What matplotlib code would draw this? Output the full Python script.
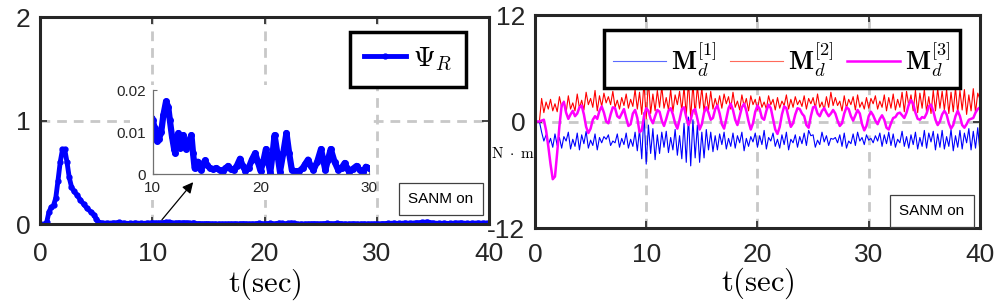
import numpy as np
import matplotlib
matplotlib.use('Agg')
import matplotlib.pyplot as plt
from matplotlib.patches import Rectangle

plt.rcParams['font.family'] = ['Liberation Sans', 'DejaVu Sans']
plt.rcParams['mathtext.fontset'] = 'cm'
plt.rcParams['axes.unicode_minus'] = False

# ---- left panel: Psi_R ----
psi_t_early = [0, 0.4, 0.6, 0.8, 1.0, 1.2, 1.4, 1.6, 1.8, 2.0, 2.2, 2.4, 2.6, 2.8, 3.0,
               3.3, 3.6, 3.9, 4.2, 4.5, 4.8, 5.0, 5.2, 5.5, 6.0, 6.5, 7.0, 7.5, 8.0,
               8.5, 9.0, 9.5]
psi_early = [0, 0, 0.02, 0.12, 0.16, 0.18, 0.25, 0.42, 0.6, 0.72, 0.72, 0.6, 0.45, 0.36,
             0.32, 0.28, 0.23, 0.19, 0.15, 0.12, 0.09, 0.05, 0.02, 0.01, 0.008, 0.01,
             0.015, 0.008, 0.005, 0.01, 0.006, 0.008]

# zoomed part (values x 1e-3)
psi_t_mid = [10.0, 10.2, 10.4, 10.6, 10.8, 11.0, 11.25, 11.45, 11.6, 11.8, 12.0, 12.1,
             12.25, 12.4, 12.55, 12.7, 12.85, 13.0, 13.1, 13.3, 13.6, 13.75, 13.9, 14.05,
             14.2, 14.35, 14.5, 14.7, 14.86, 15.05, 15.3, 15.6, 15.9, 16.2, 16.5, 16.75,
             17.0, 17.25, 17.5, 17.8, 18.1, 18.35, 18.6, 18.9, 19.2, 19.5, 19.75, 20.0,
             20.25, 20.5, 20.7, 20.9, 21.1, 21.3, 21.55, 21.8, 22.1, 22.4, 22.65, 22.9,
             23.25, 23.6, 23.9, 24.15, 24.4, 24.65, 24.9, 25.25, 25.6, 25.8, 26.0, 26.25,
             26.5, 26.85, 27.2, 27.5, 27.8, 28.0, 28.2, 28.55, 28.9, 29.2, 29.5, 29.75,
             30.0]
psi_mid_milli = [13, 11, 8, 8.5, 10, 14, 17.3, 16, 12.9, 9, 6, 5, 8, 9.8, 6.2, 8.5, 9.3,
                 7, 6, 7.5, 9.3, 5, 1.4, 2.5, 3, 2, 1, 2.5, 3.3, 2.2, 1.5, 1.2, 1.5, 1.0,
                 0.8, 1.4, 2, 1.2, 1, 2, 3.7, 2, 0.8, 1.5, 3.5, 5, 3, 0.8, 3, 6, 3, 0.4,
                 4.5, 9.3, 5, 0.6, 5, 9.8, 5, 1, 0.7, 0.8, 1.5, 2.5, 3.5, 2, 1, 3, 6, 3.5,
                 1, 3.5, 6, 3, 1, 1.5, 2.7, 1.5, 0.6, 1.3, 2, 1, 0.5, 1.8, 1.5]

psi_t_late = [30.5, 31.0, 31.5, 32.0, 32.5, 33.0, 33.5, 34.0, 34.5, 35.0, 35.5, 36.0,
              36.5, 37.0, 37.5, 38.0, 38.5, 39.0, 39.5, 40.0]
psi_late = [0.004, 0.006, 0.008, 0.005, 0.01, 0.007, 0.012, 0.015, 0.02, 0.01, 0.006,
            0.008, 0.005, 0.01, 0.012, 0.006, 0.008, 0.01, 0.008, 0.012]

# ---- right panel: disturbance moments ----
t_m = np.linspace(0, 40, 201)
md1 = [0, 0, 0, -1.2, -2.2, -1.5, -2.6, -1.9, -2.9, -1.4,
       -2.7, -1.8, -3.0, -1.7, -2.2, -1.2, -3.1, -2.0, -2.8, -1.3,
       -3.2, -1.5, -2.5, -1.1, -3.0, -2.1, -2.7, -1.4, -3.2, -1.8,
       -2.4, -1.7, -2.0, -1.5, -2.7, -2.2, -2.4, -1.4, -2.9, -1.9,
       -2.6, -1.3, -3.0, -2.0, -2.8, -1.2, -3.3, -0.9, -4.2, 1.0,
       -4.8, -0.4, -3.6, -0.8, -4.3, -1.5, -3.6, -1.2, -2.9, -1.1,
       -3.5, -1.8, -3.2, -0.9, -3.8, -1.6, -4.2, -0.2, -4.6, 0.5,
       -5.0, 0.2, -4.1, -0.4, -4.6, -1.2, -4.1, -0.9, -3.2, -1.2,
       -3.4, -1.6, -3.2, -1.4, -2.6, -1.2, -3.1, -1.9, -2.8, -1.3,
       -3.0, -1.6, -2.4, -1.2, -3.3, -1.9, -2.8, -1.7, -2.3, -1.3,
       -2.9, -1.6, -2.6, -1.0, -3.1, -1.8, -2.2, -1.3, -2.8, -2.0,
       -3.0, -1.5, -2.6, -1.2, -3.2, -2.0, -2.4, -1.5, -2.9, -1.7,
       -2.5, -1.3, -2.7, -1.0, -1.6, -1.5, -2.9, -2.1, -2.6, -1.2,
       -2.3, -1.6, -2.7, -1.9, -2.0, -1.8, -2.4, -1.5, -2.8, -1.3,
       -3.0, -2.2, -2.5, -1.4, -2.7, -1.2, -2.2, -1.8, -2.6, -1.5,
       -2.1, -1.9, -2.4, -1.6, -2.2, -1.3, -2.8, -1.5, -2.5, -1.2,
       -2.7, -1.4, -2.9, -2.0, -2.4, -1.1, -2.8, -1.7, -3.0, -1.5,
       -2.6, -1.2, -3.1, -1.8, -2.8, -1.0, -3.0, -1.3, -2.3, -1.1,
       -3.2, -1.4, -2.9, -1.0, -3.1, -1.7, -2.8, -0.9, -3.3, -1.6,
       -2.9, -1.0, -3.1, -1.3, -2.4, -0.8, -3.2, -1.1, -3.0, -0.7,
       -3.4]
md2 = [0, 0, 0, 2.6, 1.0, 2.2, 1.4, 2.5, 1.2, 2.0,
       1.1, 2.8, 1.6, 2.3, 1.0, 2.9, 1.4, 2.1, 1.2, 3.1,
       1.5, 2.4, 1.3, 3.3, 1.9, 2.6, 1.6, 3.5, 1.2, 2.9,
       1.7, 3.2, 2.1, 2.8, 1.9, 3.4, 1.6, 2.4, 1.4, 2.7,
       1.8, 3.1, 1.5, 2.5, 1.7, 3.6, 1.4, 3.3, 0.8, 4.4,
       0.3, 4.6, 0.9, 3.1, 1.2, 3.5, 1.6, 3.9, 1.5, 2.7,
       1.3, 3.6, 1.1, 3.0, 1.9, 3.4, 1.2, 3.9, 0.7, 4.5,
       0.4, 4.3, 0.8, 4.0, 1.5, 3.8, 1.1, 3.2, 1.3, 3.4,
       1.4, 2.6, 1.6, 2.9, 1.5, 3.1, 2.0, 2.8, 1.4, 3.3,
       1.6, 2.3, 1.3, 3.0, 1.7, 2.6, 1.2, 2.9, 1.9, 2.5,
       1.3, 2.8, 1.6, 2.2, 1.4, 2.9, 1.9, 2.5, 1.3, 2.7,
       1.5, 2.3, 1.8, 3.0, 1.4, 2.5, 1.6, 2.8, 1.9, 2.4,
       1.7, 2.9, 1.4, 2.6, 2.0, 2.7, 1.5, 3.1, 1.6, 2.2,
       1.3, 2.8, 1.6, 3.3, 1.8, 2.7, 1.8, 2.3, 1.2, 2.9,
       1.5, 2.5, 1.9, 2.8, 1.3, 3.0, 1.6, 2.2, 1.4, 2.7,
       1.5, 2.6, 2.0, 2.9, 1.4, 2.3, 1.6, 3.0, 1.2, 2.7,
       1.5, 3.1, 1.3, 2.5, 1.6, 3.3, 1.1, 3.4, 1.8, 3.0,
       1.2, 3.5, 1.0, 3.2, 1.5, 3.6, 1.1, 2.8, 0.9, 3.5,
       1.2, 3.7, 1.5, 3.4, 1.3, 3.6, 0.9, 3.3, 1.1, 3.8,
       1.0, 3.5, 1.3, 3.6, 0.8, 3.0, 1.2, 3.7, 1.0, 3.2,
       2.5]
md3 = [0, 0, 0, 0.1, 0.2, -1.0, -2.8, -4.8, -6.5, -6.2,
       -3.5, -0.5, 1.8, 2.2, 1.0, 0.3, 0.8, 1.2, 0.6, 0.9,
       1.6, 1.8, 0.8, -0.6, -1.3, -0.8, 0.2, 0.6, 0.3, 1.2,
       1.7, 1.0, 0.0, -0.2, 0.8, 1.6, 1.5, 0.6, 0.4, 0.9,
       1.4, 0.4, -0.5, -0.3, 0.9, 1.3, 0.4, -1.2, -1.0, 0.6,
       1.5, 1.2, 0.3, -0.2, 0.6, 1.3, 1.1, 0.1, -0.5, 0.3,
       1.2, 1.5, 0.8, -0.2, -0.8, 0.2, 1.4, 1.6, 0.5, -0.4,
       0.2, 1.2, 1.4, 0.3, -0.9, -0.3, 1.0, 1.6, 1.0, 0.2,
       0.4, 1.4, 1.8, 0.9, -0.3, -0.8, 0.3, 1.5, 2.0, 1.3,
       0.2, -0.4, 0.6, 1.6, 2.0, 1.2, 0.0, -0.9, -0.2, 1.1,
       1.8, 1.4, 0.4, 0.2, 1.2, 1.9, 1.5, 0.3, -0.9, -1.4,
       -0.6, 0.8, 1.7, 1.5, 0.4, -0.6, -0.2, 0.8, 1.5, 1.4,
       0.9, 0.6, -0.4, -0.7, 0.6, 1.6, 1.7, 0.9, 0.6, 1.2,
       1.5, 1.0, 0.6, 0.9, 1.3, 0.9, 0.1, -0.5, -0.2, 0.9,
       1.6, 1.4, 0.6, 0.1, 0.7, 1.3, 0.9, -0.3, -1.0, -0.5,
       0.6, 1.1, 0.7, 0.1, -0.3, 0.3, 0.7, 0.2, -0.7, -0.9,
       -0.2, 0.4, 0.5, 0.9, 1.0, 0.7, 0.4, 1.0, 1.9, 2.4,
       2.0, 1.0, 0.3, 0.2, 0.5, 0.4, 0.9, 1.7, 1.9, 1.2,
       0.2, -0.4, 0.0, 0.8, 1.2, 0.8, -0.2, -0.8, -0.4, 0.6,
       1.2, 0.6, -0.4, -0.7, -0.3, 0.2, 0.3, 0.4, 1.0, 1.4,
       1.6]

psi_mid = [v * 1e-3 for v in psi_mid_milli]
psi_t = psi_t_early + psi_t_mid + psi_t_late
psi = psi_early + psi_mid + psi_late

spine_c = '#262626'
grid_kw = dict(color='#c8c8c8', linestyle=(0, (3.5, 2.5)), linewidth=2)


def style(ax, xpad, label_y):
    for s in ax.spines.values():
        s.set_linewidth(2.2)
        s.set_color(spine_c)
    ax.tick_params(direction='in', length=5, width=1.2, labelsize=19,
                   top=True, right=True, colors=spine_c, labelcolor='#262626')
    ax.tick_params(axis='x', pad=xpad)
    ax.tick_params(axis='y', pad=7)
    ax.set_axisbelow(True)
    ax.set_xlim(0, 40)
    ax.set_xticks([0, 10, 20, 30, 40])
    ax.set_xlabel(r'$\mathrm{t(sec)}$', fontsize=22)
    ax.xaxis.set_label_coords(0.5, label_y)


fig = plt.figure(figsize=(9.96, 3.01), dpi=100)

# left
ax1 = fig.add_axes([0.0402, 0.2558, 0.4508, 0.6877])
style(ax1, 13, -0.205)
ax1.set_ylim(0, 2)
ax1.set_yticks([0, 1, 2])
ax1.grid(True, **grid_kw)
ax1.plot(psi_t, psi, color='#0000ff', lw=3.5, marker='.', ms=7, label=r'$\Psi_R$')
leg1 = ax1.legend(loc='upper right', bbox_to_anchor=(0.949, 0.928), fontsize=20,
                  fancybox=False, edgecolor='black', framealpha=1, borderaxespad=0,
                  handlelength=1.5, handletextpad=0.25, borderpad=0.5)
leg1.get_frame().set_linewidth(2.5)

# white area behind the zoom
ax1.add_patch(Rectangle((0.2, 0.116), 0.541, 0.556, transform=ax1.transAxes,
                        facecolor='white', edgecolor='none', zorder=4))
axin = ax1.inset_axes([0.2506, 0.240, 0.481, 0.407])
axin.set_zorder(5)
axin.plot(psi_t_mid, psi_mid, color='#0000ff', lw=4.5, marker='.', ms=8)
axin.set_xlim(10, 30)
axin.set_ylim(0, 0.02)
axin.set_xticks([10, 20, 30])
axin.set_yticks([0, 0.01, 0.02])
axin.set_yticklabels(['0', '0.01', '0.02'])
axin.spines['top'].set_visible(False)
axin.spines['right'].set_visible(False)
for s in ['left', 'bottom']:
    axin.spines[s].set_color('#707070')
    axin.spines[s].set_linewidth(0.9)
axin.tick_params(labelsize=11, length=3, direction='in', colors='#707070',
                 labelcolor='#262626', pad=5)
axin.patch.set_alpha(0)

ax1.annotate('', xy=(13.8, 0.425), xytext=(10.7, 0.02),
             arrowprops=dict(arrowstyle='-|>', color='black', lw=0.9, mutation_scale=16),
             zorder=6)
ax1.text(0.893, 0.121, 'SANM on', transform=ax1.transAxes, ha='center', va='center',
         fontsize=11, zorder=6,
         bbox=dict(boxstyle='square,pad=0.6', fc='white', ec='#404040', lw=0.9))

# right
ax2 = fig.add_axes([0.5371, 0.2425, 0.4468, 0.7076])
style(ax2, 11, -0.175)
ax2.set_ylim(-12, 12)
ax2.set_yticks([-12, 0, 12])
ax2.grid(True, **grid_kw)
ax2.plot(t_m, md1, color='#0000ff', lw=0.8, label=r'$\mathbf{M}_d^{[1]}$')
ax2.plot(t_m, md2, color='#ff0000', lw=0.8, label=r'$\mathbf{M}_d^{[2]}$')
ax2.plot(t_m, md3, color='#ff00ff', lw=1.8, label=r'$\mathbf{M}_d^{[3]}$')
leg2 = ax2.legend(loc='upper right', bbox_to_anchor=(0.955, 0.930), ncol=3, fontsize=19,
                  fancybox=False, edgecolor='black', framealpha=1, borderaxespad=0,
                  handlelength=2.0, handletextpad=0.2, columnspacing=0.5,
                  borderpad=0.35)
leg2.get_frame().set_linewidth(2.5)
for h, c in zip(leg2.get_lines(), ['#5a6aff', '#ff6a5a', '#ff00ff']):
    h.set_color(c)
ax2.text(0.892, 0.080, 'SANM on', transform=ax2.transAxes, ha='center', va='center',
         fontsize=11, zorder=6,
         bbox=dict(boxstyle='square,pad=0.6', fc='white', ec='#404040', lw=0.9))
fig.text(513 / 996, 1 - 153 / 301, r'$\mathrm{N\ \cdot\ m}$', fontsize=11, ha='center',
         va='center')

fig.savefig('out.png', dpi=100)
